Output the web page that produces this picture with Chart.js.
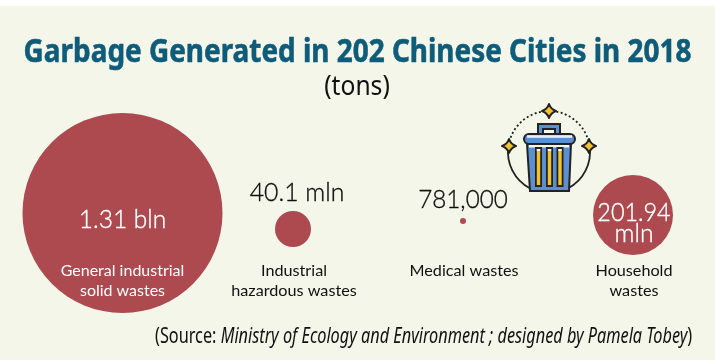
<!DOCTYPE html>
<html><head><meta charset="utf-8">
<style>html,body{margin:0;padding:0;background:#fff}#w{position:absolute;left:0;top:0;width:715px;height:363px}</style>
<script src="https://cdn.jsdelivr.net/npm/chart.js@4"></script>
</head><body><div id="w"><canvas id="c" width="715" height="363"></canvas></div>
<script>
const categories = ["General industrial solid wastes","Industrial hazardous wastes","Medical wastes","Household wastes"];
const valuesTons = [1310000000,40100000,781000,201940000];
const valueLabels = ["1.31 bln","40.1 mln","781,000","201.94 mln"];
const titleText = "Garbage Generated in 202 Chinese Cities in 2018";
const unitText = "(tons)";

const bubbleX = [122.5,293,463,633], bubbleY = [213,229,221,215], bubbleR = [100,18,3,40];
const BG='#f4f6e9', RED='#ad4a50', TEAL='#0f5c7a', PAD=Math.max(...bubbleR);

function txt(ctx,s,x,y,font,color,sx=1,align='center',stroke=0){
  ctx.save();ctx.font=font;ctx.fillStyle=color;ctx.textAlign=align;ctx.textBaseline='alphabetic';
  ctx.translate(x,y);ctx.scale(sx,1);ctx.fillText(s,0,0);
  if(stroke){ctx.strokeStyle=color;ctx.lineWidth=stroke;ctx.lineJoin='round';ctx.strokeText(s,0,0);}
  ctx.restore();
}
function star(ctx,x,y,r){
  ctx.beginPath();
  for(let i=0;i<4;i++){
    const a=i*Math.PI/2-Math.PI/2,b=a+Math.PI/2;
    if(i==0)ctx.moveTo(x+r*Math.cos(a),y+r*Math.sin(a));
    ctx.quadraticCurveTo(x+r*.36*Math.cos(a+Math.PI/4),y+r*.36*Math.sin(a+Math.PI/4),x+r*Math.cos(b),y+r*Math.sin(b));
  }
  ctx.closePath();ctx.fillStyle='#f2c230';ctx.fill();ctx.lineWidth=2;ctx.lineJoin='round';ctx.strokeStyle='#222';ctx.stroke();
}
function icon(ctx){
  ctx.save();
  const cx=549,cy=152,r=41,d=Math.PI/180;
  ctx.strokeStyle='#222';ctx.lineWidth=1.8;
  ctx.setLineDash([2,2.4]);ctx.beginPath();ctx.arc(cx,cy,r,188*d,352*d);ctx.stroke();
  ctx.setLineDash([]);
  ctx.beginPath();ctx.arc(cx,cy,r,-8*d,62*d);ctx.stroke();
  ctx.beginPath();ctx.arc(cx,cy,r,118*d,188*d);ctx.stroke();
  ctx.lineWidth=2;
  // handle
  ctx.fillStyle='#5b8fcf';ctx.fillRect(538,124,22,11);ctx.strokeRect(538,124,22,11);
  ctx.fillStyle=BG;ctx.fillRect(543,129,12,5);ctx.strokeRect(543,129,12,5);
  // body
  ctx.beginPath();ctx.moveTo(527,144);ctx.lineTo(571,144);ctx.lineTo(569,191);ctx.lineTo(530,191);ctx.closePath();
  ctx.fillStyle='#5b8fcf';ctx.fill();ctx.stroke();
  ctx.fillStyle='#f4f6e9';ctx.fillRect(529,145,40,2.5);
  [538.5,549.5,560].forEach(x=>{
    ctx.fillStyle='#222';ctx.fillRect(x-3.5,147,7,40);
    ctx.fillStyle='#f2c230';ctx.fillRect(x-1.7,149,3.4,36);
    ctx.fillStyle='#fff';ctx.fillRect(x-1.7,149,3.4,2);
  });
  // lid
  ctx.beginPath();ctx.roundRect(524,134,51,10,5);ctx.fillStyle='#5b8fcf';ctx.fill();ctx.stroke();
  ctx.fillStyle='#e9eef4';ctx.fillRect(527,135.2,45,2.6);
  star(ctx,549,111,7);star(ctx,509,146,7);star(ctx,589,146,7);
  ctx.restore();
}
const deco={id:'deco',
 beforeDraw(ch){const c=ch.ctx;c.save();c.fillStyle='#fff';c.fillRect(0,0,715,363);c.fillStyle=BG;c.fillRect(0,6,715,354);c.restore();},
 afterDraw(ch){const c=ch.ctx;
  txt(c,titleText,357.5,62,'bold 33px "Noto Sans"',TEAL,0.846,'center',0.6);
  txt(c,unitText,357,95,'28px "Noto Sans"','#111',0.88);
  icon(c);
  txt(c,valueLabels[0],122.5,228,'300 25px Lato','#fff',0.98,'center',0.35);
  txt(c,"General industrial",122.5,276,'16px Lato','#fff');
  txt(c,"solid wastes",122.5,296,'16px Lato','#fff');
  txt(c,valueLabels[1],297,201,'300 25.5px Lato','#111',0.97,'center',0.35);
  txt(c,"Industrial",294,276,'16.2px Lato','#111');
  txt(c,"hazardous wastes",294,296,'16.2px Lato','#111');
  txt(c,valueLabels[2],463,208,'300 25.5px Lato','#111',0.95,'center',0.35);
  txt(c,"Medical wastes",464,276,'16.2px Lato','#111');
  const p=valueLabels[3].split(' ');
  txt(c,p[0],634,221,'300 26px Lato','#fff',0.9,'center',0.4);
  txt(c,p[1],634,242,'300 26px Lato','#fff',0.95,'center',0.4);
  txt(c,"Household",634,276,'16.2px Lato','#111');
  txt(c,"wastes",634,296,'16.2px Lato','#111');
  c.save();
  const sx=0.775;let x=155;const y=343;
  c.font='21px "Noto Sans"';
  txt(c,"(Source: ",x,y,'21px "Noto Sans"','#111',sx,'left');
  x+=c.measureText("(Source: ").width*sx;
  c.font='italic 21px "Noto Sans"';
  const m="Ministry of Ecology and Environment ; designed by Pamela Tobey";
  txt(c,m,x,y,'italic 21px "Noto Sans"','#111',sx,'left');
  x+=c.measureText(m).width*sx;
  txt(c,")",x,y,'21px "Noto Sans"','#111',sx,'left');
  c.restore();
 }};
new Chart(document.getElementById('c'),{
 type:'bubble',
 data:{labels:categories,datasets:[{
   data:valuesTons.map((v,i)=>({x:bubbleX[i],y:bubbleY[i],r:bubbleR[i],v})),
   backgroundColor:RED,borderWidth:0,hoverRadius:0,clip:false}]},
 options:{responsive:false,animation:false,layout:{padding:0},
  plugins:{legend:{display:false},tooltip:{enabled:false}},
  scales:{x:{type:'linear',min:PAD,max:715-PAD,display:false},y:{type:'linear',min:PAD,max:363-PAD,reverse:true,display:false}}},
 plugins:[deco]});
</script></body></html>
